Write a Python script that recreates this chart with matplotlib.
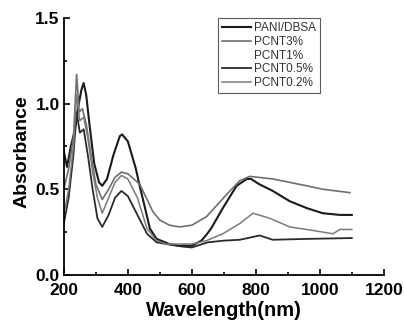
import numpy as np
import matplotlib
matplotlib.use("Agg")
from matplotlib import pyplot as plt
from matplotlib.ticker import MultipleLocator

# region Data
wl_pani = [200, 210, 222, 235, 245, 255, 262, 270, 280, 295, 310, 320, 335, 355, 375, 382,
           400, 425, 437, 450, 469, 490, 530, 560, 600, 630, 646, 660, 697, 740, 772, 785,
           810, 853, 906, 959, 1009, 1063, 1100]
ab_pani = [0.72, 0.63, 0.75, 0.85, 0.98, 1.08, 1.12, 1.05, 0.88, 0.65, 0.54, 0.52, 0.56, 0.70, 0.81, 0.82,
           0.78, 0.62, 0.52, 0.42, 0.27, 0.21, 0.18, 0.17, 0.17, 0.20, 0.235, 0.27, 0.39, 0.52, 0.56, 0.56,
           0.53, 0.49, 0.43, 0.39, 0.36, 0.35, 0.35]

wl_3 = [200, 215, 230, 240, 248, 258, 270, 285, 300, 320, 340, 360, 380, 400, 437, 478,
        500, 530, 562, 600, 646, 709, 750, 781, 853, 959, 1009, 1094]
ab_3 = [0.50, 0.62, 0.80, 1.17, 0.95, 0.97, 0.88, 0.70, 0.53, 0.44, 0.50, 0.57, 0.60, 0.59, 0.53, 0.37,
        0.32, 0.29, 0.28, 0.29, 0.34, 0.47, 0.55, 0.575, 0.56, 0.52, 0.50, 0.48]

wl_05 = [200, 215, 230, 240, 250, 262, 275, 290, 305, 320, 340, 360, 380, 400, 430, 460,
         490, 520, 572, 600, 650, 700, 750, 812, 853, 959, 1100]
ab_05 = [0.30, 0.45, 0.70, 0.95, 0.83, 0.85, 0.70, 0.50, 0.33, 0.28, 0.35, 0.45, 0.49, 0.46, 0.35, 0.24,
         0.19, 0.18, 0.165, 0.16, 0.19, 0.20, 0.205, 0.23, 0.205, 0.21, 0.215]

wl_02 = [200, 215, 230, 240, 250, 262, 275, 290, 305, 320, 340, 360, 380, 400, 430, 460,
         490, 520, 600, 646, 697, 750, 791, 844, 906, 959, 1009, 1041, 1063, 1100]
ab_02 = [0.35, 0.50, 0.75, 1.05, 0.90, 0.92, 0.80, 0.60, 0.45, 0.36, 0.45, 0.54, 0.58, 0.56, 0.45, 0.27,
         0.20, 0.18, 0.18, 0.20, 0.24, 0.30, 0.36, 0.33, 0.28, 0.265, 0.25, 0.24, 0.265, 0.265]
# endregion

plt.rcParams['font.family'] = ['Liberation Sans', 'DejaVu Sans']

fig = plt.figure(figsize=(4.04, 3.2), dpi=100)
ax = fig.add_axes([0.158, 0.141, 0.792, 0.803])

ax.plot(wl_pani, ab_pani, color="#1a1a1a", lw=1.5, label="PANI/DBSA")
ax.plot(wl_3, ab_3, color="#6e6e6e", lw=1.2, label="PCNT3%")
ax.plot([], [], color="white", lw=1.2, label="PCNT1%")
ax.plot(wl_05, ab_05, color="#2a2a2a", lw=1.3, label="PCNT0.5%")
ax.plot(wl_02, ab_02, color="#7a7a7a", lw=1.1, label="PCNT0.2%")

ax.set_xlim(200, 1200)
ax.set_ylim(0, 1.5)
ax.xaxis.set_major_locator(MultipleLocator(200))
ax.xaxis.set_minor_locator(MultipleLocator(100))
ax.yaxis.set_major_locator(MultipleLocator(0.5))
ax.yaxis.set_minor_locator(MultipleLocator(0.25))
ax.tick_params(which="both", direction="in", width=1.2)
ax.tick_params(which="major", length=4, labelsize=12.5)
ax.tick_params(axis="x", pad=6)
ax.tick_params(axis="y", pad=3)
ax.tick_params(which="minor", length=2.5)
for lab in ax.get_xticklabels() + ax.get_yticklabels():
    lab.set_fontweight("bold")
ax.spines["top"].set_visible(False)
ax.spines["right"].set_visible(False)
ax.spines["left"].set_linewidth(1.3)
ax.spines["bottom"].set_linewidth(1.3)

ax.set_xlabel("Wavelength(nm)", fontsize=14.5, fontweight="bold", labelpad=2)
ax.set_ylabel("Absorbance", fontsize=14, fontweight="bold")
ax.yaxis.set_label_coords(-0.105, 0.48)

leg = ax.legend(loc="upper left", bbox_to_anchor=(0.481, 1.0), fontsize=8.5, frameon=True,
                fancybox=False, edgecolor="#333333", handlelength=2.5, handletextpad=0.2,
                labelspacing=0.15, borderpad=0.35, borderaxespad=0)
leg.get_frame().set_linewidth(0.8)
for t in leg.get_texts():
    t.set_color("#333333")

fig.savefig("out.png", dpi=100)
